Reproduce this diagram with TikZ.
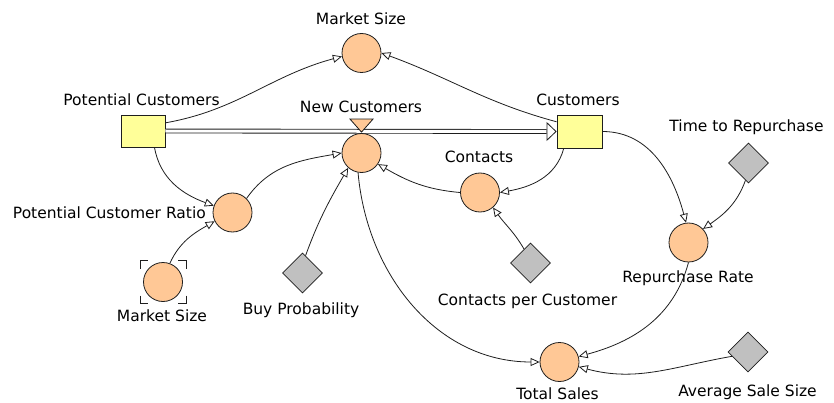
\documentclass[tikz,border=0pt]{standalone}
\usepackage{fontspec}
\setmainfont{DejaVu Sans}
\usetikzlibrary{arrows.meta,shapes.geometric,positioning}
\definecolor{auxcol}{RGB}{255,200,150}
\definecolor{stockcol}{RGB}{255,255,153}
\definecolor{constcol}{RGB}{192,192,192}
\definecolor{linecol}{RGB}{30,30,30}
\definecolor{textcol}{RGB}{0,0,0}
\begin{document}
\begin{tikzpicture}[x=1pt,y=1pt,
    font=\fontsize{15.5}{18}\selectfont,
    stock/.style={draw=linecol, fill=stockcol, minimum width=44pt, minimum height=32pt, inner sep=0pt, line width=0.8pt},
    aux/.style={circle, draw=linecol, fill=auxcol, minimum size=39pt, inner sep=0pt, line width=0.8pt},
    const/.style={diamond, draw=linecol, fill=constcol, minimum size=40pt, inner sep=0pt, line width=0.8pt},
    link/.style={-{Triangle[length=9pt,width=8pt,fill=white]}, draw=linecol, line width=0.8pt},
    pipe/.style={draw=linecol, line width=0.9pt, double=white, double distance=3pt},
    lbl/.style={anchor=base, inner sep=0pt, text=textcol}]
    \useasboundingbox (0,0) rectangle (834,402);
    % stocks
    \node[stock] (pc) at (143,271) {};
    \node[stock, minimum width=45pt, minimum height=33pt] (cu) at (579.5,270.5) {};
    % converters
    \node[aux] (ms) at (361.5,349) {};
    \node[aux] (nc) at (361.5,249) {};
    \node[aux] (pcr) at (232.5,189.5) {};
    \node[aux] (ms2) at (163,120) {};
    \node[aux] (co) at (480,209.5) {};
    \node[aux] (rr) at (688.5,159.5) {};
    \node[aux] (ts) at (559.5,40) {};
    % constants
    \node[const] (bp) at (302.5,129) {};
    \node[const] (cpc) at (530.5,139) {};
    \node[const] (ttr) at (748.5,239) {};
    \node[const] (ass) at (748,50) {};
    % ghost marks
    \foreach \sx/\sy in {-1/-1,-1/1,1/-1,1/1}
        \draw[linecol, line width=0.8pt] ([shift={(\sx*23,\sy*13.5)}]ms2.center) -- ++(0,\sy*8) -- ++(-\sx*8,0);
    % flow
    \coordinate[left=10pt of cu.west] (pipeend);
    \draw[pipe] (pc.east) -- (pipeend);
    \draw[-{Triangle[length=10pt,width=19pt,fill=white]}, draw=linecol, line width=0.8pt] (pipeend) -- (cu.west);
    \filldraw[draw=linecol, fill=auxcol, line width=0.8pt] (nc.north) ++(0,1) coordinate (vtip) -- ++(-11.5,13) -- ++(23,0) -- cycle;
    % labels
    \node[lbl] (ms-l) at (361,377) {Market Size};
    \node[lbl] (pc-l) at (141.5,296) {Potential Customers};
    \node[lbl] (nc-l) at (361,289.5) {New Customers};
    \node[lbl] (cu-l) at (578,296) {Customers};
    \node[lbl] (ttr-l) at (746.5,270) {Time to Repurchase};
    \node[lbl] (co-l) at (479,239) {Contacts};
    \node[lbl, anchor=base east] (pcr-l) at (206,184) {Potential Customer Ratio};
    \node[lbl] (ms2-l) at (162,80.5) {Market Size};
    \node[lbl] (bp-l) at (301,88) {Buy Probability};
    \node[lbl] (cpc-l) at (527.5,97) {Contacts per Customer};
    \node[lbl] (rr-l) at (688,120) {Repurchase Rate};
    \node[lbl] (ts-l) at (557.5,3) {Total Sales};
    \node[lbl] (ass-l) at (747.5,6) {Average Sale Size};
    % connectors
    \draw[link] (pc.20) to[out=10, in=195] (ms.190);
    \draw[link] (cu.157) to[out=165, in=-20] (ms.east);
    \draw[link] (pc.-55) to[out=-80, in=160] (pcr.160);
    \draw[link] (pcr.45) to[out=55, in=190] (nc.west);
    \draw[link] (ms2.70) to[out=65, in=210] (pcr.206);
    \draw[link] (bp.80) to[out=70, in=-120] (nc.228);
    \draw[link] (co.west) to[out=175, in=-30] (nc.-34);
    \draw[link] (cu.227) to[out=-105, in=10] (co.east);
    \draw[link] (cpc.115) to[out=120, in=-55] (co.-49);
    \draw[link] (cu.east) to[out=0, in=105] (rr.97);
    \draw[link] (ttr.-100) to[out=-110, in=35] (rr.43);
    \draw[link] (nc.-100) to[out=-85, in=180] (ts.west);
    \draw[link] (rr.south) to[out=-105, in=15] (ts.16);
    \draw[link] (ass.195) to[out=190, in=-15] (ts.-14);
\end{tikzpicture}
\end{document}
